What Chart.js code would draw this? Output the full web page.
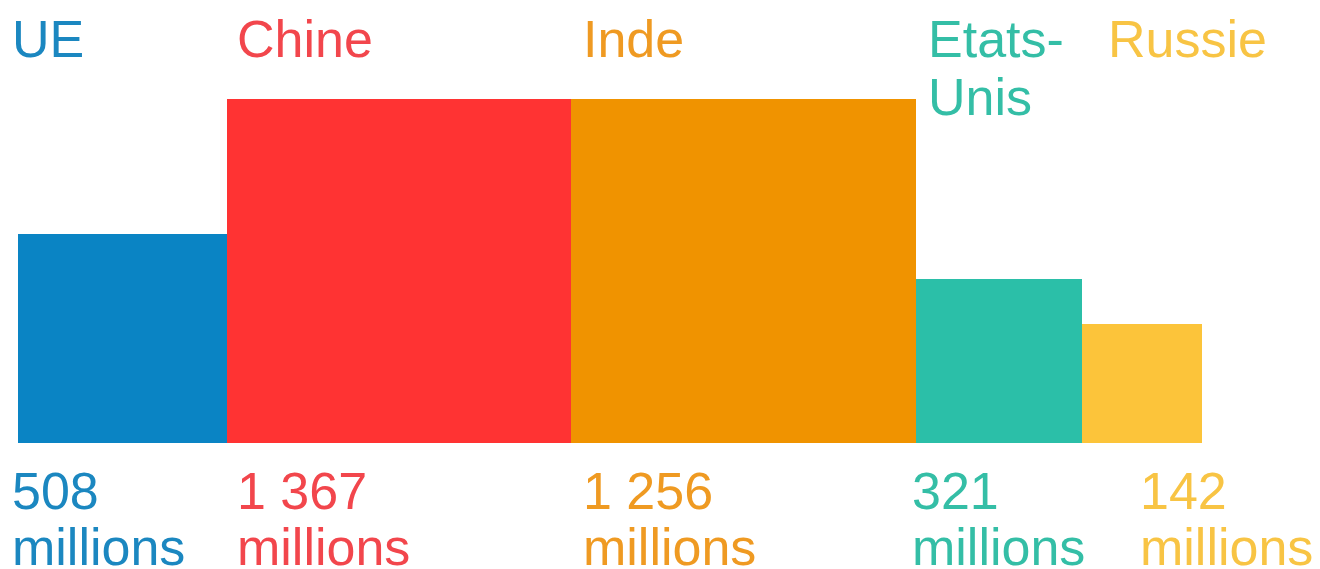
<!DOCTYPE html>
<html lang="fr">
<head>
<meta charset="utf-8">
<title>Population</title>
<script src="https://cdn.jsdelivr.net/npm/chart.js@4/dist/chart.umd.min.js"></script>
<style>
  html, body { margin: 0; padding: 0; background: #fff; }
  #wrap { width: 1320px; height: 569px; }
</style>
</head>
<body>
<div id="wrap"><canvas id="chart" width="1320" height="569"></canvas></div>
<script>
// Données
const pays = ['UE', 'Chine', 'Inde', 'Etats-Unis', 'Russie'];
const nomLignes = [['UE'], ['Chine'], ['Inde'], ['Etats-', 'Unis'], ['Russie']];
const population = [508, 1367, 1256, 321, 142]; // millions
const largeur = [209, 344, 345, 166, 120];   // côté des carrés (unités arbitraires)
const hauteur = [209, 344, 344, 164, 119];
const couleurs = ['#0a84c4', '#ff3333', '#f09300', '#2bbfa8', '#fcc43a'];
const couleursTexte = ['#1b87c0', '#f2464c', '#ef9a22', '#34bea6', '#f8c444'];

// décalages des étiquettes par rapport au bord gauche de chaque barre (px)
const decalNom = [-6, 10, 12, 12, 26];
const decalNombre = [-6, 10, 12, -4, 58];

function formatNombre(n) {
    return String(n).replace(/\B(?=(\d{3})+(?!\d))/g, ' ');
}

// chaque barre = polygone rempli sur un axe x linéaire
let debut = 0;
const datasets = pays.map((p, i) => {
    const x0 = debut;
    const x1 = debut + largeur[i];
    debut = x1;
    return {
        label: p,
        data: [
            { x: x0, y: 0 }, { x: x0, y: hauteur[i] },
            { x: x1, y: hauteur[i] }, { x: x1, y: 0 }
        ],
        borderWidth: 0,
        borderColor: couleurs[i],
        backgroundColor: couleurs[i],
        pointRadius: 0,
        fill: 'origin',
        tension: 0
    };
});
const totalLargeur = debut;

const etiquettes = {
    id: 'etiquettes',
    afterDraw(chart) {
        const ctx = chart.ctx;
        const xs = chart.scales.x;
        const ys = chart.scales.y;
        ctx.save();
        ctx.font = '52px "Liberation Sans", Arial, sans-serif';
        ctx.textAlign = 'left';
        ctx.textBaseline = 'alphabetic';
        let cumul = 0;
        pays.forEach((p, i) => {
            const gauche = xs.getPixelForValue(cumul);
            cumul += largeur[i];
            ctx.fillStyle = couleursTexte[i];
            nomLignes[i].forEach((ligne, k) => {
                ctx.fillText(ligne, gauche + decalNom[i], 57 + k * 58);
            });
            const base = ys.getPixelForValue(0);
            ctx.fillText(formatNombre(population[i]), gauche + decalNombre[i], base + 66);
            ctx.fillText('millions', gauche + decalNombre[i], base + 122);
        });
        ctx.restore();
    }
};

new Chart(document.getElementById('chart'), {
    type: 'line',
    data: { datasets },
    options: {
        responsive: false,
        animation: false,
        layout: { padding: { left: 18, right: 118, top: 99, bottom: 126 } },
        scales: {
            x: { type: 'linear', min: 0, max: totalLargeur, display: false },
            y: { type: 'linear', min: 0, max: 344, display: false }
        },
        plugins: {
            legend: { display: false },
            tooltip: { enabled: false }
        }
    },
    plugins: [etiquettes]
});
</script>
</body>
</html>
